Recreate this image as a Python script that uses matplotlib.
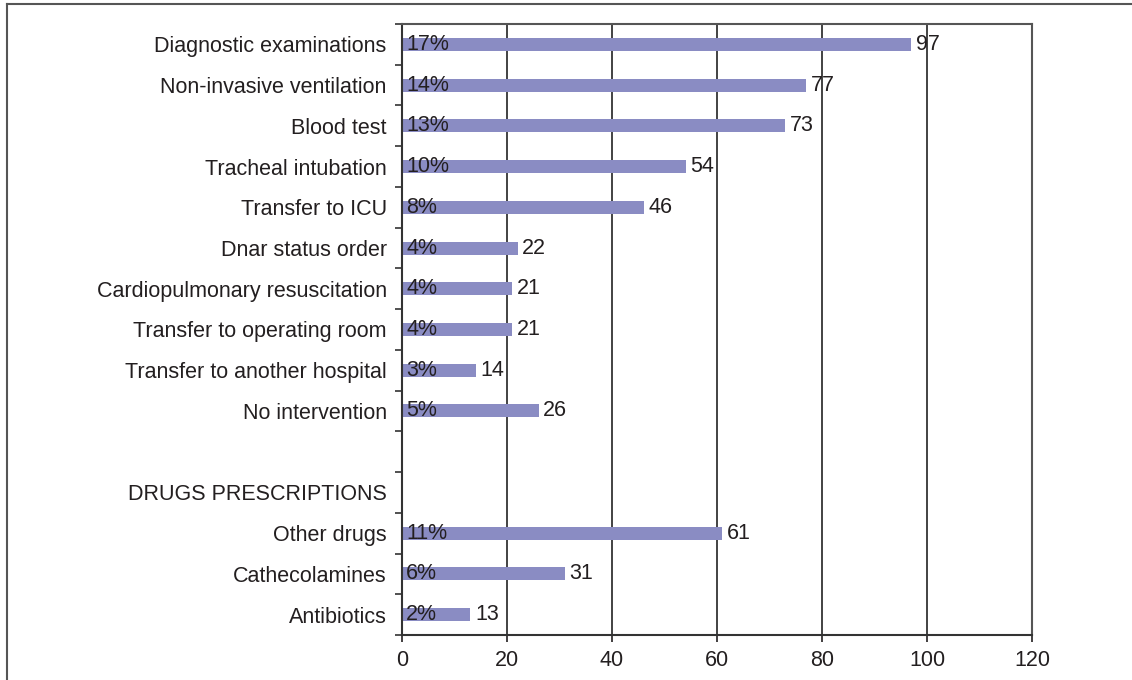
import matplotlib.pyplot as plt
from matplotlib.lines import Line2D

plt.rcParams['font.family'] = ['Liberation Sans', 'DejaVu Sans']

# rows from top to bottom (blank rows have no bar)
labels = ["Diagnostic examinations", "Non-invasive ventilation", "Blood test",
          "Tracheal intubation", "Transfer to ICU", "Dnar status order",
          "Cardiopulmonary resuscitation", "Transfer to operating room",
          "Transfer to another hospital", "No intervention", "",
          "DRUGS PRESCRIPTIONS", "Other drugs", "Cathecolamines", "Antibiotics"]
counts = [97, 77, 73, 54, 46, 22, 21, 21, 14, 26, None, None, 61, 31, 13]
percents = ["17%", "14%", "13%", "10%", "8%", "4%", "4%", "4%", "3%", "5%",
            None, None, "11%", "6%", "2%"]

bar_color = "#8a8cc3"
txt_color = "#231f20"
fs = 15.5

fig = plt.figure(figsize=(11.32, 6.8), dpi=100)
ax = fig.add_axes([402 / 1132, 1 - 635 / 680, 630 / 1132, 611 / 680])

n = len(labels)
ys = list(range(n))
for y, c, p in zip(ys, counts, percents):
    if c is None:
        continue
    ax.barh(y, c, height=0.32, color=bar_color, zorder=2)
    ax.text(0.8, y, p, ha="left", va="center", fontsize=fs, color=txt_color, zorder=3)
    ax.text(c + 0.9, y, str(c), ha="left", va="center", fontsize=fs, color=txt_color, zorder=3)

ax.set_xlim(0, 120)
ax.set_ylim(n - 0.5, -0.5)
ax.set_xticks(range(0, 121, 20))
ax.tick_params(axis="x", labelsize=fs, colors=txt_color, length=5, width=1.2, pad=6)
ax.set_yticks(ys)
ax.set_yticklabels(labels)
ax.tick_params(axis="y", which="major", length=0, labelsize=fs, colors=txt_color, pad=11)
ax.set_yticks([y + 0.5 for y in range(-1, n)], minor=True)
ax.tick_params(axis="y", which="minor", length=5, width=1.2, color="#333333")

for x in range(20, 101, 20):
    ax.axvline(x, color="#222222", linewidth=1.2, zorder=1)
for side in ["left", "bottom"]:
    ax.spines[side].set_color("#333333")
    ax.spines[side].set_linewidth(1.5)
for side in ["top", "right"]:
    ax.spines[side].set_color("#555555")
    ax.spines[side].set_linewidth(1.5)

# outer frame lines (top and left)
fig.add_artist(Line2D([7 / 1132, 1], [1 - 4 / 680, 1 - 4 / 680], color="#555555", linewidth=1.5))
fig.add_artist(Line2D([7 / 1132, 7 / 1132], [0, 1 - 4 / 680], color="#555555", linewidth=1.5))

fig.savefig("out.png", dpi=100)
